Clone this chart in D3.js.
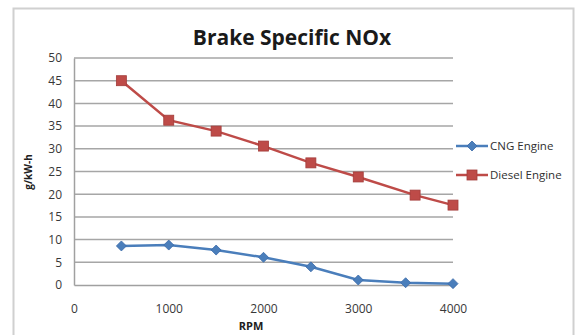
<!DOCTYPE html>
<html>
<head>
<meta charset="utf-8">
<script src="https://cdn.jsdelivr.net/npm/d3@7"></script>
<style>
  body { margin: 0; background: #fff; }
  text { font-family: "Open Sans", "Noto Sans", sans-serif; }
</style>
</head>
<body>
<div class="chart"></div>
<script>
var width = 577;
var height = 335;

// data
var cngRpm = [500, 1000, 1500, 2000, 2500, 3000, 3500, 4000];
var cngNox = [8.6, 8.8, 7.7, 6.1, 4.0, 1.1, 0.5, 0.3];
var dieselRpm = [500, 1000, 1500, 2000, 2500, 3000, 3600, 4000];
var dieselNox = [45, 36.3, 33.9, 30.6, 26.9, 23.8, 19.8, 17.6];
var xTicks = [0, 1000, 2000, 3000, 4000];
var yTicks = [0, 5, 10, 15, 20, 25, 30, 35, 40, 45, 50];
var seriesNames = ['CNG Engine', 'Diesel Engine'];
var seriesColors = ['#4a7ebb', '#be4b48'];

var svg = d3.select('.chart').append('svg').attr('width', width).attr('height', height);

// frame
svg.append('rect')
  .attr('x', 13.5).attr('y', 8.5)
  .attr('width', 560).attr('height', 330)
  .attr('fill', 'none').attr('stroke', '#d0d0d0').attr('stroke-width', 2);

var x = d3.scaleLinear().domain([0, 4000]).range([74, 453]);
var y = d3.scaleLinear().domain([0, 50]).range([285, 58]);

// gridlines
svg.selectAll('line.grid')
  .data(yTicks.slice(1)).enter()
  .append('line')
  .attr('class', 'grid')
  .attr('x1', x(0)).attr('x2', x(4000))
  .attr('y1', function(d){ return y(d); })
  .attr('y2', function(d){ return y(d); })
  .attr('stroke', '#a6a6a6')
  .attr('stroke-width', 1.5);

var yAxis = svg.append('g')
  .attr('transform', 'translate(' + x(0) + ',0)')
  .call(d3.axisLeft(y).tickValues(yTicks).tickSize(0).tickPadding(12));
var xAxis = svg.append('g')
  .attr('transform', 'translate(0,' + y(0) + ')')
  .call(d3.axisBottom(x).tickValues(xTicks).tickFormat(d3.format('d')).tickSize(0).tickPadding(19));

[yAxis, xAxis].forEach(function(a){
  a.select('.domain').attr('stroke', '#a0a0a0').attr('stroke-width', 1.5);
  a.selectAll('text')
    .attr('fill', '#383838')
    .style('font-size', '12px');
});

var line = d3.line()
  .x(function(d){ return x(d[0]); })
  .y(function(d){ return y(d[1]); });

var series = [
  d3.zip(cngRpm, cngNox),
  d3.zip(dieselRpm, dieselNox)
];

series.forEach(function(pts, i){
  svg.append('path')
    .datum(pts)
    .attr('d', line)
    .attr('fill', 'none')
    .attr('stroke', seriesColors[i])
    .attr('stroke-width', 2.5);
});

function drawMarker(g, i, cx, cy){
  if (i === 0) {
    g.append('path')
      .attr('d', 'M' + cx + ',' + (cy - 5) + 'L' + (cx + 5) + ',' + cy + 'L' + cx + ',' + (cy + 5) + 'L' + (cx - 5) + ',' + cy + 'Z')
      .attr('fill', seriesColors[0])
      .attr('stroke', '#3a6aa8').attr('stroke-width', 0.8);
  } else {
    g.append('rect')
      .attr('x', cx - 5).attr('y', cy - 5)
      .attr('width', 10).attr('height', 10)
      .attr('fill', seriesColors[1])
      .attr('stroke', '#a33c3a').attr('stroke-width', 0.8);
  }
}

series.forEach(function(pts, i){
  var g = svg.append('g');
  pts.forEach(function(p){
    drawMarker(g, i, x(p[0]), y(p[1]));
  });
});

// legend
var legendY = [146, 175];
seriesNames.forEach(function(name, i){
  var g = svg.append('g');
  g.append('line')
    .attr('x1', 456).attr('x2', 488)
    .attr('y1', legendY[i]).attr('y2', legendY[i])
    .attr('stroke', seriesColors[i]).attr('stroke-width', 2.5);
  drawMarker(g, i, 472, legendY[i]);
  g.append('text')
    .attr('x', 490).attr('y', legendY[i] + 4)
    .attr('fill', '#303030')
    .style('font-size', '11.5px')
    .text(name);
});

// titles
svg.append('text')
  .attr('x', 292).attr('y', 45)
  .attr('text-anchor', 'middle')
  .style('font-size', '21px').style('font-weight', 'bold')
  .attr('fill', '#1a1a1a')
  .text('Brake Specific NOx');

svg.append('text')
  .attr('transform', 'translate(32,' + 172 + ') rotate(-90)')
  .attr('text-anchor', 'middle')
  .style('font-size', '10px').style('font-weight', 'bold')
  .attr('fill', '#202020')
  .text('g/kW-h');

svg.append('text')
  .attr('x', 251).attr('y', 330)
  .attr('text-anchor', 'middle')
  .style('font-size', '11px').style('font-weight', 'bold')
  .attr('fill', '#202020')
  .text('RPM');
</script>
</body>
</html>
